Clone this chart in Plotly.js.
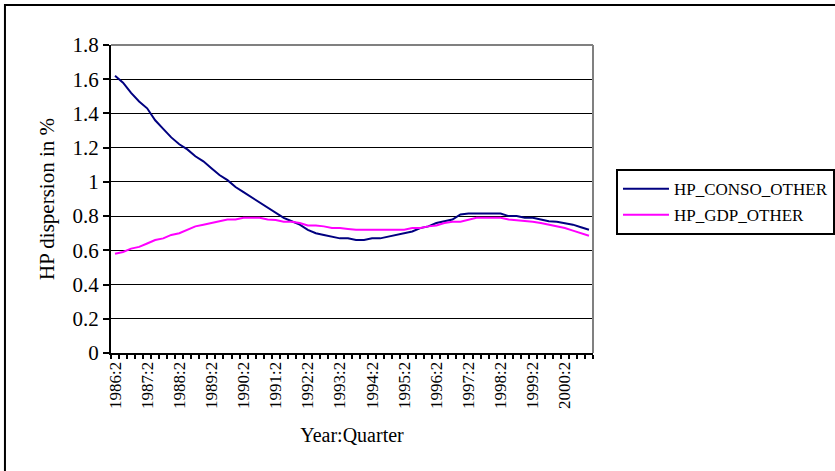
<!DOCTYPE html>
<html>
<head>
<meta charset="utf-8">
<script src="https://cdn.plot.ly/plotly-3.0.1.min.js"></script>
<style>html,body{margin:0;padding:0;background:#fff;}#chart{width:835px;height:471px;}</style>
</head>
<body>
<div id="chart"></div>
<script>
var quarters = [
  "1986:2","1986:3","1986:4","1987:1","1987:2","1987:3","1987:4","1988:1",
  "1988:2","1988:3","1988:4","1989:1","1989:2","1989:3","1989:4","1990:1",
  "1990:2","1990:3","1990:4","1991:1","1991:2","1991:3","1991:4","1992:1",
  "1992:2","1992:3","1992:4","1993:1","1993:2","1993:3","1993:4","1994:1",
  "1994:2","1994:3","1994:4","1995:1","1995:2","1995:3","1995:4","1996:1",
  "1996:2","1996:3","1996:4","1997:1","1997:2","1997:3","1997:4","1998:1",
  "1998:2","1998:3","1998:4","1999:1","1999:2","1999:3","1999:4","2000:1",
  "2000:2","2000:3","2000:4","2001:1"
];
var consoOther = [
  1.62,1.58,1.52,1.47,1.43,1.36,1.31,1.26,1.22,1.19,
  1.15,1.12,1.08,1.04,1.01,0.97,0.94,0.91,0.88,0.85,
  0.82,0.79,0.77,0.75,0.72,0.70,0.69,0.68,0.67,0.67,
  0.66,0.66,0.67,0.67,0.68,0.69,0.70,0.71,0.73,0.74,
  0.76,0.77,0.78,0.81,0.815,0.815,0.815,0.815,0.815,0.80,
  0.80,0.79,0.79,0.78,0.77,0.767,0.76,0.75,0.735,0.72
];
var gdpOther = [
  0.58,0.59,0.61,0.62,0.64,0.66,0.67,0.69,0.70,0.72,
  0.74,0.75,0.76,0.77,0.78,0.78,0.79,0.79,0.79,0.78,
  0.777,0.767,0.767,0.76,0.745,0.745,0.74,0.73,0.73,0.725,
  0.72,0.72,0.72,0.72,0.72,0.72,0.72,0.73,0.73,0.74,
  0.745,0.76,0.767,0.767,0.78,0.79,0.79,0.79,0.79,0.78,
  0.777,0.77,0.767,0.76,0.75,0.74,0.73,0.715,0.70,0.685
];
var seriesNames = ["HP_CONSO_OTHER","HP_GDP_OTHER"];
var yTitle = "HP dispersion in %";
var xTitle = "Year:Quarter";

var idx = quarters.map(function(q,i){return i;});
var labelIdx = idx.filter(function(i){return i % 4 === 0;});
var labelText = labelIdx.map(function(i){return quarters[i];});

var font = "Times New Roman";
var traces = [
  {x: idx, y: consoOther, name: seriesNames[0], type: "scatter", mode: "lines",
   legendgroup: "a", line: {color: "#000080", width: 2}},
  {x: idx, y: gdpOther, name: seriesNames[1], type: "scatter", mode: "lines",
   legendgroup: "b", line: {color: "#FF00FF", width: 2}}
];
var layout = {
  width: 835, height: 471,
  margin: {l: 111, r: 242, t: 45, b: 118, autoexpand: false},
  paper_bgcolor: "#fff", plot_bgcolor: "#fff",
  font: {family: font, size: 16, color: "#000"},
  showlegend: true,
  legend: {x: 1.0477, xanchor: "left", y: 0.597, yanchor: "top",
           bordercolor: "#000", borderwidth: 2, bgcolor: "#fff",
           traceorder: "grouped", tracegroupgap: 1,
           font: {family: font, size: 17, color: "#000"}, itemwidth: 46},
  xaxis: {
    range: [-0.5, quarters.length - 0.5],
    tickmode: "array", tickvals: labelIdx, ticktext: labelText,
    tickangle: -90, ticks: "", tickfont: {family: font, size: 17},
    showgrid: false, zeroline: false, automargin: false,
    showline: true, linecolor: "#000", linewidth: 2,
    minor: {tickmode: "linear", tick0: -0.5, dtick: 1, ticks: "outside", ticklen: 4, tickcolor: "#000", tickwidth: 2, showgrid: false},
    title: {text: xTitle, font: {family: font, size: 20}, standoff: 20}
  },
  yaxis: {
    range: [0, 1.8], dtick: 0.2, tick0: 0, automargin: false,
    ticks: "outside", ticklen: 6, tickwidth: 2, tickcolor: "#000",
    showgrid: true, gridcolor: "#000", gridwidth: 1,
    zeroline: false, showline: true, linecolor: "#000", linewidth: 2,
    tickfont: {family: font, size: 21},
    title: {text: yTitle, font: {family: font, size: 21}, standoff: 12}
  },
  shapes: [
    {type: "line", xref: "paper", yref: "paper", x0: 0, x1: 1, y0: 1, y1: 1,
     line: {color: "#808080", width: 2}},
    {type: "line", xref: "paper", yref: "paper", x0: 1, x1: 1, y0: 0, y1: 1,
     line: {color: "#808080", width: 2}},
    {type: "rect", xref: "paper", yref: "paper", x0: -0.22, x1: 1.56, y0: -0.45, y1: 1.13,
     line: {color: "#000", width: 2}, layer: "below"}
  ]
};
Plotly.newPlot("chart", traces, layout, {staticPlot: true});
</script>
</body>
</html>
